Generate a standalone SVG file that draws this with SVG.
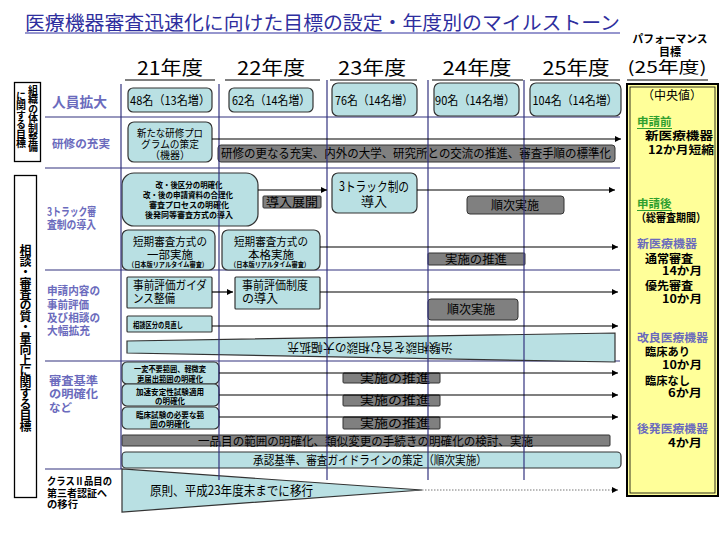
<svg xmlns="http://www.w3.org/2000/svg" width="720" height="540" viewBox="0 0 720 540">
<defs>
<marker id="ah" viewBox="0 0 10 10" refX="10" refY="5" markerWidth="7" markerHeight="6" markerUnits="userSpaceOnUse" orient="auto"><path d="M0,0 L10,5 L0,10 z" fill="#000"/></marker>
</defs>
<style>
text{font-family:"Noto Sans CJK JP","Noto Sans",sans-serif;fill:#000}
.cy{fill:#b9e0e3;stroke:#333;stroke-width:1.2}
.gr{fill:#808080;stroke:#333;stroke-width:1}
.sep{stroke:#33337f;stroke-width:1.2;fill:none}
.vl{stroke:#33337f;stroke-width:1.2;fill:none}
.ar{stroke:#000;stroke-width:1.2;fill:none;marker-end:url(#ah)}
.lab{font-size:11.5px;font-weight:bold;fill:#6b6bbd}
.hd{font-size:19px;text-anchor:middle}
.t12{font-size:12px}
.c{text-anchor:middle}
.t8{font-size:8px;font-weight:bold}
.pb{font-size:11.5px;font-weight:bold}
.pp{font-size:11.5px;font-weight:bold;fill:#6b6bbd}
.pg{font-size:11.5px;font-weight:bold;fill:#2f9f2f}
.vt{font-weight:bold;writing-mode:vertical-rl}
</style>
<rect width="720" height="540" fill="#fff"/>

<g id="title">
<text x="25" y="30" font-size="19" style="fill:#2e2e9e" textLength="595" lengthAdjust="spacingAndGlyphs">医療機器審査迅速化に向けた目標の設定・年度別のマイルストーン</text>
<line x1="25" y1="33" x2="620" y2="33" stroke="#2e2e9e" stroke-width="1.2"/>
</g>

<g id="headers">
<text class="hd" x="170" y="75" textLength="66" lengthAdjust="spacingAndGlyphs">21年度</text>
<text class="hd" x="271" y="75" textLength="68" lengthAdjust="spacingAndGlyphs">22年度</text>
<text class="hd" x="372" y="75" textLength="68" lengthAdjust="spacingAndGlyphs">23年度</text>
<text class="hd" x="477" y="75" textLength="69" lengthAdjust="spacingAndGlyphs">24年度</text>
<text class="hd" x="576" y="75" textLength="67" lengthAdjust="spacingAndGlyphs">25年度</text>
<text x="670" y="43" font-size="11" font-weight="bold" class="c" textLength="75" lengthAdjust="spacingAndGlyphs">パフォーマンス</text>
<text x="670" y="56" font-size="11" font-weight="bold" class="c">目標</text>
<text x="667" y="73" font-size="16" class="c" textLength="79" lengthAdjust="spacingAndGlyphs">(25年度)</text>
<g stroke="#000" stroke-width="1">
<line x1="125" y1="80" x2="215" y2="80"/>
<line x1="225" y1="80" x2="320" y2="80"/>
<line x1="330" y1="80" x2="417" y2="80"/>
<line x1="432" y1="80" x2="523" y2="80"/>
<line x1="530" y1="80" x2="620" y2="80"/>
<line x1="627" y1="80" x2="708" y2="80"/>
</g>
</g>

<g id="grid">
<line class="sep" x1="45" y1="117" x2="620" y2="117"/>
<line class="sep" x1="45" y1="168" x2="620" y2="168"/>
<line class="sep" x1="45" y1="270" x2="620" y2="270"/>
<line class="sep" x1="45" y1="361" x2="620" y2="361"/>
<line class="sep" x1="45" y1="469" x2="122" y2="469"/>
</g>

<g id="left-box-1">
<rect x="14.5" y="82.5" width="26" height="79" fill="#fff" stroke="#000" stroke-width="1.3"/>
<text class="vt" x="33" y="85" font-size="10" letter-spacing="-0.5">組織の体制整備</text>
<text class="vt" x="21" y="91" font-size="10" letter-spacing="-0.5">に関する目標</text>
</g>

<g id="left-box-2">
<rect x="14.5" y="175.5" width="22" height="322" fill="#fff" stroke="#000" stroke-width="1.3"/>
<text class="vt" x="25.5" y="244" font-size="12" letter-spacing="-1">相談・審査の質・量向上に関する目標</text>
</g>

<g id="labels">
<text class="lab" x="52" y="107" style="font-size:14px" textLength="55" lengthAdjust="spacingAndGlyphs">人員拡大</text>
<text class="lab" x="52" y="148" textLength="58" lengthAdjust="spacingAndGlyphs">研修の充実</text>
<text class="lab" x="47" y="216" textLength="49" lengthAdjust="spacingAndGlyphs">3トラック審</text>
<text class="lab" x="47" y="229" textLength="49" lengthAdjust="spacingAndGlyphs">査制の導入</text>
<text class="lab" x="47" y="295" textLength="53" lengthAdjust="spacingAndGlyphs">申請内容の</text>
<text class="lab" x="47" y="309" textLength="42" lengthAdjust="spacingAndGlyphs">事前評価</text>
<text class="lab" x="47" y="322" textLength="53" lengthAdjust="spacingAndGlyphs">及び相談の</text>
<text class="lab" x="47" y="335" textLength="43" lengthAdjust="spacingAndGlyphs">大幅拡充</text>
<text class="lab" x="49" y="385" textLength="49" lengthAdjust="spacingAndGlyphs">審査基準</text>
<text class="lab" x="49" y="398" textLength="49" lengthAdjust="spacingAndGlyphs">の明確化</text>
<text class="lab" x="49" y="412" textLength="23" lengthAdjust="spacingAndGlyphs">など</text>
<text x="47" y="485" font-size="10" font-weight="bold" textLength="65" lengthAdjust="spacingAndGlyphs">クラスⅡ品目の</text>
<text x="47" y="497" font-size="10" font-weight="bold" textLength="60" lengthAdjust="spacingAndGlyphs">第三者認証へ</text>
<text x="47" y="508" font-size="10" font-weight="bold" textLength="31" lengthAdjust="spacingAndGlyphs">の移行</text>
</g>

<g id="staff">
<g id="staff-21"><rect class="cy" x="128" y="88" width="84" height="24" rx="5"/><text class="t12 c" x="170" y="105" textLength="80" lengthAdjust="spacingAndGlyphs">48名（13名増）</text></g>
<g id="staff-22"><rect class="cy" x="229" y="88" width="84" height="24" rx="5"/><text class="t12 c" x="271" y="105" textLength="78" lengthAdjust="spacingAndGlyphs">62名（14名増）</text></g>
<g id="staff-23"><rect class="cy" x="332" y="83" width="85" height="33" rx="6"/><text class="t12 c" x="374" y="105" textLength="78" lengthAdjust="spacingAndGlyphs">76名（14名増）</text></g>
<g id="staff-24"><rect class="cy" x="434" y="83" width="85" height="33" rx="6"/><text class="t12 c" x="475" y="105" textLength="80" lengthAdjust="spacingAndGlyphs">90名（14名増）</text></g>
<g id="staff-25"><rect class="cy" x="530" y="83" width="91" height="33" rx="6"/><text class="t12 c" x="575" y="105" textLength="85" lengthAdjust="spacingAndGlyphs">104名（14名増）</text></g>
</g>

<g id="training-program">
<rect class="cy" x="128" y="122" width="84" height="40" rx="6"/>
<text class="c" x="170" y="137" font-size="10.5" textLength="66" lengthAdjust="spacingAndGlyphs">新たな研修プロ</text>
<text class="c" x="170" y="148" font-size="10.5" textLength="58" lengthAdjust="spacingAndGlyphs">グラムの策定</text>
<text class="c" x="170" y="159" font-size="10.5" textLength="40" lengthAdjust="spacingAndGlyphs">（機器）</text>
</g>
<g id="training-bar">
<rect class="gr" x="218" y="145" width="397" height="17" rx="3"/>
<text x="221" y="158" font-size="12" textLength="390" lengthAdjust="spacingAndGlyphs">研修の更なる充実、内外の大学、研究所との交流の推進、審査手順の標準化</text>
</g>

<g id="track-items">
<rect class="cy" x="122" y="173" width="136" height="53" rx="12"/>
<text class="t8 c" x="189" y="188" textLength="67" lengthAdjust="spacingAndGlyphs">改・後区分の明確化</text>
<text class="t8 c" x="188" y="198" textLength="90" lengthAdjust="spacingAndGlyphs">改・後の申請資料の合理化</text>
<text class="t8 c" x="189" y="208" textLength="80" lengthAdjust="spacingAndGlyphs">審査プロセスの明確化</text>
<text class="t8 c" x="189" y="218" textLength="88" lengthAdjust="spacingAndGlyphs">後発同等審査方式の導入</text>
</g>
<g id="track-deploy">
<rect class="gr" x="263" y="196" width="58" height="12" rx="1"/>
<text class="c" x="292" y="207" font-size="12" textLength="52" lengthAdjust="spacingAndGlyphs">導入展開</text>
</g>
<g id="track-intro">
<rect class="cy" x="332" y="173" width="85" height="40" rx="6"/>
<text class="c" x="374" y="191" font-size="13" textLength="70" lengthAdjust="spacingAndGlyphs">3トラック制の</text>
<text class="c" x="374" y="206" font-size="13">導入</text>
</g>
<g id="track-seq">
<rect class="gr" x="467" y="196" width="97" height="18" rx="3"/>
<text class="c" x="515" y="210" font-size="12">順次実施</text>
</g>
<g id="short-partial">
<rect class="cy" x="122" y="230" width="93" height="40" rx="6"/>
<text class="c" x="170" y="246" font-size="11.5" textLength="74" lengthAdjust="spacingAndGlyphs">短期審査方式の</text>
<text class="c" x="170" y="259" font-size="11.5">一部実施</text>
<text class="c" x="168" y="267" font-size="7" font-weight="bold" textLength="80" lengthAdjust="spacingAndGlyphs">（日本版リアルタイム審査）</text>
</g>
<g id="short-full">
<rect class="cy" x="222" y="230" width="98" height="40" rx="6"/>
<text class="c" x="271" y="246" font-size="11.5" textLength="74" lengthAdjust="spacingAndGlyphs">短期審査方式の</text>
<text class="c" x="271" y="259" font-size="11.5">本格実施</text>
<text class="c" x="270" y="267" font-size="7" font-weight="bold" textLength="80" lengthAdjust="spacingAndGlyphs">（日本版リアルタイム審査）</text>
</g>
<g id="short-promote">
<rect class="gr" x="428" y="253" width="97" height="12" rx="1"/>
<text class="c" x="476" y="264" font-size="12" textLength="62" lengthAdjust="spacingAndGlyphs">実施の推進</text>
</g>

<g id="guidance">
<rect class="cy" x="127" y="277" width="85" height="31" rx="1"/>
<text x="133" y="290" font-size="12" textLength="74" lengthAdjust="spacingAndGlyphs">事前評価ガイダ</text>
<text x="133" y="303" font-size="12" textLength="42" lengthAdjust="spacingAndGlyphs">ンス整備</text>
</g>
<g id="prior-eval">
<rect class="cy" x="235" y="277" width="85" height="32" rx="1"/>
<text x="242" y="290" font-size="12" textLength="66" lengthAdjust="spacingAndGlyphs">事前評価制度</text>
<text x="242" y="303" font-size="12">の導入</text>
</g>
<g id="prior-seq">
<rect class="gr" x="428" y="299" width="90" height="21" rx="3"/>
<text class="c" x="471" y="314" font-size="12">順次実施</text>
</g>
<g id="consult-review">
<rect class="cy" x="127" y="316" width="85" height="16" rx="1"/>
<text class="t8" x="133" y="328" textLength="50" lengthAdjust="spacingAndGlyphs">相談区分の見直し</text>
</g>
<g id="consult-expand">
<polygon class="cy" points="127,341 615,333 615,362 127,353"/>
<text class="c" x="370" y="351" font-size="12" transform="rotate(180 370 347)" textLength="165" lengthAdjust="spacingAndGlyphs">治験相談を含む相談の大幅拡充</text>
</g>

<g id="std-items">
<rect class="cy" x="122" y="362" width="97" height="22" rx="5"/>
<text class="t8 c" x="170" y="372" textLength="72" lengthAdjust="spacingAndGlyphs">一変不要範囲、軽微変</text>
<text class="t8 c" x="170" y="382" textLength="66" lengthAdjust="spacingAndGlyphs">更届出範囲の明確化</text>
<rect class="cy" x="122" y="384" width="97" height="22" rx="5"/>
<text class="t8 c" x="170" y="395" textLength="68" lengthAdjust="spacingAndGlyphs">加速安定性試験適用</text>
<text class="t8 c" x="170" y="404" textLength="30" lengthAdjust="spacingAndGlyphs">の明確化</text>
<rect class="cy" x="122" y="407" width="97" height="22" rx="5"/>
<text class="t8 c" x="170" y="418" textLength="68" lengthAdjust="spacingAndGlyphs">臨床試験の必要な範</text>
<text class="t8 c" x="170" y="427" textLength="40" lengthAdjust="spacingAndGlyphs">囲の明確化</text>
</g>
<g id="std-promote">
<rect class="gr" x="343" y="373" width="97" height="10" rx="1"/>
<text class="c" x="395" y="383" font-size="12" textLength="70" lengthAdjust="spacingAndGlyphs">実施の推進</text>
<rect class="gr" x="343" y="395" width="97" height="11" rx="1"/>
<text class="c" x="395" y="405" font-size="12" textLength="70" lengthAdjust="spacingAndGlyphs">実施の推進</text>
<rect class="gr" x="343" y="417" width="97" height="12" rx="1"/>
<text class="c" x="395" y="428" font-size="12" textLength="70" lengthAdjust="spacingAndGlyphs">実施の推進</text>
</g>
<g id="scope-bar">
<rect class="gr" x="122" y="435" width="488" height="11" rx="1"/>
<text x="198" y="446" font-size="12" textLength="335" lengthAdjust="spacingAndGlyphs">一品目の範囲の明確化、類似変更の手続きの明確化の検討、実施</text>
</g>
<g id="guideline-bar">
<rect class="cy" x="122" y="452" width="499" height="16" rx="4"/>
<text x="253" y="465" font-size="12" textLength="234" lengthAdjust="spacingAndGlyphs">承認基準、審査ガイドラインの策定（順次実施）</text>
</g>
<g id="class2">
<polygon class="cy" points="122,469 122,512 422,490"/>
<text x="150" y="495" font-size="13" textLength="163" lengthAdjust="spacingAndGlyphs">原則、平成23年度末までに移行</text>
</g>

<g id="verticals">
<line class="vl" x1="121" y1="84" x2="121" y2="469"/>
<line class="vl" x1="219" y1="84" x2="219" y2="480"/>
<line class="vl" x1="327" y1="80" x2="327" y2="480"/>
<line class="vl" x1="428" y1="80" x2="428" y2="480"/>
<line class="vl" x1="524" y1="80" x2="524" y2="480"/>
</g>

<g id="connectors">
<path class="ar" d="M212,139 H621"/>
<path class="ar" d="M258,190 H327"/>
<path class="ar" d="M417,190 H615"/>
<path class="ar" d="M320,247 H618"/>
<path class="ar" d="M212,292 H233"/>
<path class="ar" d="M320,292 H618"/>
<path class="ar" d="M212,326 H618"/>
<path class="ar" d="M219,373 H618"/>
<path class="ar" d="M219,395 H618"/>
<path class="ar" d="M219,417 H618"/>
<path class="ar" d="M422,490 H618" stroke-dasharray="1.5,1.5" style="stroke:#777"/>
</g>

<g id="target-panel">
<rect x="627" y="84" width="91" height="412" fill="#ffff99" stroke="#000" stroke-width="2"/>
<rect x="630" y="87" width="85" height="406" fill="none" stroke="#000" stroke-width="0.8"/>
<text x="672" y="100" font-size="12" class="c">（中央値）</text>
<text class="pg" x="637" y="126">申請前</text>
<line x1="637" y1="128.5" x2="672" y2="128.5" stroke="#2f9f2f" stroke-width="1"/>
<text class="pb" x="645" y="140" textLength="68" lengthAdjust="spacingAndGlyphs">新医療機器</text>
<text class="pb" x="648" y="154" textLength="66" lengthAdjust="spacingAndGlyphs">12か月短縮</text>
<text class="pg" x="637" y="208">申請後</text>
<line x1="637" y1="210.5" x2="672" y2="210.5" stroke="#2f9f2f" stroke-width="1"/>
<text class="pb" x="636" y="222" textLength="70" lengthAdjust="spacingAndGlyphs">（総審査期間）</text>
<text class="pp" x="637" y="248" textLength="60" lengthAdjust="spacingAndGlyphs">新医療機器</text>
<text class="pb" x="645" y="263" textLength="48" lengthAdjust="spacingAndGlyphs">通常審査</text>
<text class="pb" x="662" y="275" textLength="40" lengthAdjust="spacingAndGlyphs">14か月</text>
<text class="pb" x="645" y="290" textLength="48" lengthAdjust="spacingAndGlyphs">優先審査</text>
<text class="pb" x="662" y="303" textLength="40" lengthAdjust="spacingAndGlyphs">10か月</text>
<text class="pp" x="637" y="342" textLength="71" lengthAdjust="spacingAndGlyphs">改良医療機器</text>
<text class="pb" x="645" y="356" textLength="45" lengthAdjust="spacingAndGlyphs">臨床あり</text>
<text class="pb" x="662" y="369" textLength="40" lengthAdjust="spacingAndGlyphs">10か月</text>
<text class="pb" x="645" y="385" textLength="45" lengthAdjust="spacingAndGlyphs">臨床なし</text>
<text class="pb" x="668" y="397" textLength="34" lengthAdjust="spacingAndGlyphs">6か月</text>
<text class="pp" x="637" y="433" textLength="71" lengthAdjust="spacingAndGlyphs">後発医療機器</text>
<text class="pb" x="668" y="447" textLength="34" lengthAdjust="spacingAndGlyphs">4か月</text>
</g>
</svg>
